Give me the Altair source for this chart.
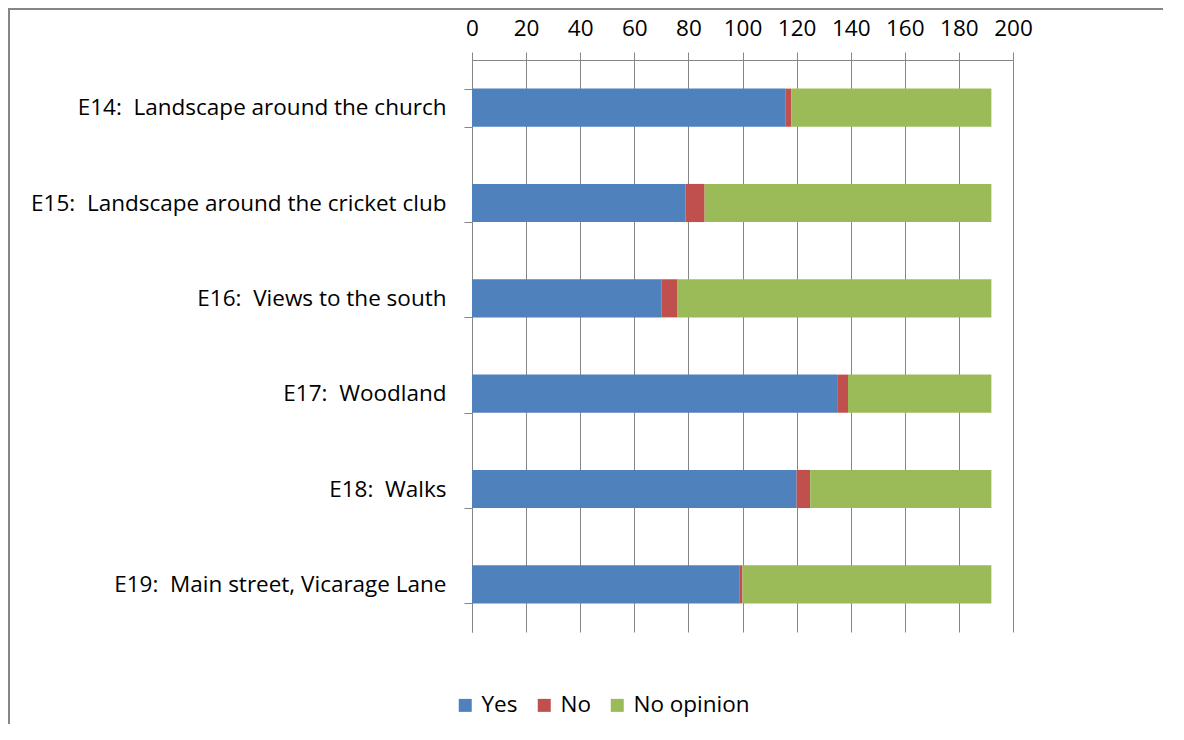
import altair as alt
import pandas as pd

categories = [
    "E14:\u00a0 Landscape around the church",
    "E15:\u00a0 Landscape around the cricket club",
    "E16:\u00a0 Views to the south",
    "E17:\u00a0 Woodland",
    "E18:\u00a0 Walks",
    "E19:\u00a0 Main street, Vicarage Lane",
]
series = ["Yes", "No", "No opinion"]
yes_vals = [116, 79, 70, 135, 120, 99]
no_vals = [2, 7, 6, 4, 5, 1]
noop_vals = [74, 106, 116, 53, 67, 92]
colors = ["#4F81BD", "#C0504D", "#9BBB59"]
x_ticks = list(range(0, 201, 20))

rows = []
for i, c in enumerate(categories):
    for j, (s, vals) in enumerate(zip(series, [yes_vals, no_vals, noop_vals])):
        rows.append({"cat": c, "series": s, "value": vals[i], "order": j})
df = pd.DataFrame(rows)

FONT = "Open Sans"
GRAY = "#868686"
FS = 22.5

bars = alt.Chart(df).mark_bar().encode(
    y=alt.Y("cat:N", sort=categories, title=None,
            scale=alt.Scale(paddingInner=0.6, paddingOuter=0.3),
            axis=alt.Axis(tickBand="extent", tickSize=8, tickColor=GRAY,
                          domainColor=GRAY, labelFontSize=FS, labelFont=FONT,
                          labelColor="black", labelPadding=18, grid=False,
                          labelLimit=600)),
    x=alt.X("value:Q", stack="zero", title=None,
            scale=alt.Scale(domain=[0, 200], nice=False),
            axis=alt.Axis(orient="top", values=x_ticks, tickSize=8,
                          tickColor=GRAY, domainColor=GRAY, grid=True,
                          gridColor=GRAY, gridOpacity=1, labelFontSize=FS,
                          labelFont=FONT, labelColor="black", labelPadding=12,
                          labelOverlap=False, labelFlush=False)),
    color=alt.Color("series:N", sort=series,
                    scale=alt.Scale(domain=series, range=colors),
                    legend=alt.Legend(title=None, orient="none", legendX=-18,
                                      legendY=634, direction="horizontal",
                                      symbolType="square", symbolSize=169,
                                      symbolStrokeWidth=0, labelFontSize=FS,
                                      labelFont=FONT, labelColor="black",
                                      labelOffset=5, columnPadding=15)),
    order=alt.Order("order:Q"),
)

one_df = pd.DataFrame({"b": [1]})
border_top = alt.Chart(one_df).mark_rule(stroke=GRAY, strokeWidth=2).encode(
    x=alt.value(-464), x2=alt.value(704), y=alt.value(-51)
)
border_left = alt.Chart(one_df).mark_rule(stroke=GRAY, strokeWidth=2).encode(
    x=alt.value(-463), y=alt.value(-52), y2=alt.value(664)
)
cover_right = alt.Chart(one_df).mark_rule(stroke="white", strokeWidth=4).encode(
    x=alt.value(690), y=alt.value(-49), y2=alt.value(664)
)

chart = alt.layer(bars, border_top, border_left, cover_right).properties(
    width=541, height=572,
    autosize=alt.AutoSizeParams(type="none"),
    padding={"left": 464, "top": 52, "right": 150, "bottom": 92},
).configure_view(strokeWidth=0)

chart.save("out.html", embed_options={"renderer": "svg", "actions": False})
